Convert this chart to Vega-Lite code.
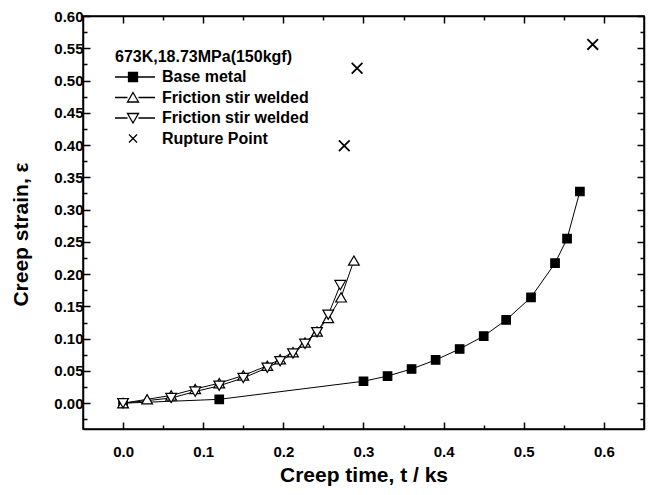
{
  "$schema": "https://vega.github.io/schema/vega-lite/v6.json",
  "width": 561,
  "height": 413,
  "autosize": {"type": "none"},
  "padding": {"left": 83, "top": 16, "right": 4, "bottom": 66},
  "background": "white",
  "config": {
    "view": {"stroke": "black", "strokeWidth": 1.5},
    "font": "Liberation Sans",
    "axis": {
      "domainColor": "black", "domainWidth": 1.5,
      "tickColor": "black", "tickWidth": 1.5,
      "labelColor": "black", "titleColor": "black",
      "labelFont": "Liberation Sans", "titleFont": "Liberation Sans",
      "labelFontSize": 15, "labelFontWeight": "bold",
      "titleFontSize": 21, "titleFontWeight": "bold",
      "grid": false
    },
    "legend": {
      "labelFont": "Liberation Sans", "titleFont": "Liberation Sans",
      "labelColor": "black", "titleColor": "black",
      "orient": "none",
      "legendX": 32,
      "legendY": 33,
      "padding": 0,
      "titleFontSize": 16,
      "titleFontWeight": "bold",
      "titlePadding": 4,
      "labelFontSize": 16,
      "labelFontWeight": "bold",
      "labelOffset": 31,
      "rowPadding": 4.5,
      "symbolSize": 100,
      "symbolOpacity": 1,
      "symbolStrokeWidth": 1.3
    }
  },
  "data": {
    "values": [
      {"series": "Base metal", "t": 0.0, "strain": 0.0},
      {"series": "Base metal", "t": 0.12, "strain": 0.006},
      {"series": "Base metal", "t": 0.30, "strain": 0.034},
      {"series": "Base metal", "t": 0.33, "strain": 0.042},
      {"series": "Base metal", "t": 0.36, "strain": 0.053},
      {"series": "Base metal", "t": 0.39, "strain": 0.067},
      {"series": "Base metal", "t": 0.42, "strain": 0.084},
      {"series": "Base metal", "t": 0.45, "strain": 0.104},
      {"series": "Base metal", "t": 0.478, "strain": 0.129},
      {"series": "Base metal", "t": 0.509, "strain": 0.164},
      {"series": "Base metal", "t": 0.539, "strain": 0.217},
      {"series": "Base metal", "t": 0.554, "strain": 0.255},
      {"series": "Base metal", "t": 0.57, "strain": 0.328},
      {"series": "Friction stir welded A", "t": 0.0, "strain": 0.0},
      {"series": "Friction stir welded A", "t": 0.03, "strain": 0.006},
      {"series": "Friction stir welded A", "t": 0.06, "strain": 0.012},
      {"series": "Friction stir welded A", "t": 0.09, "strain": 0.022},
      {"series": "Friction stir welded A", "t": 0.12, "strain": 0.031},
      {"series": "Friction stir welded A", "t": 0.15, "strain": 0.043},
      {"series": "Friction stir welded A", "t": 0.18, "strain": 0.058},
      {"series": "Friction stir welded A", "t": 0.196, "strain": 0.068},
      {"series": "Friction stir welded A", "t": 0.212, "strain": 0.079},
      {"series": "Friction stir welded A", "t": 0.227, "strain": 0.094},
      {"series": "Friction stir welded A", "t": 0.242, "strain": 0.111},
      {"series": "Friction stir welded A", "t": 0.256, "strain": 0.132},
      {"series": "Friction stir welded A", "t": 0.272, "strain": 0.164},
      {"series": "Friction stir welded A", "t": 0.288, "strain": 0.221},
      {"series": "Friction stir welded B", "t": 0.0, "strain": 0.0},
      {"series": "Friction stir welded B", "t": 0.06, "strain": 0.008},
      {"series": "Friction stir welded B", "t": 0.09, "strain": 0.018},
      {"series": "Friction stir welded B", "t": 0.12, "strain": 0.027},
      {"series": "Friction stir welded B", "t": 0.15, "strain": 0.039},
      {"series": "Friction stir welded B", "t": 0.18, "strain": 0.055},
      {"series": "Friction stir welded B", "t": 0.196, "strain": 0.065},
      {"series": "Friction stir welded B", "t": 0.212, "strain": 0.077},
      {"series": "Friction stir welded B", "t": 0.227, "strain": 0.092},
      {"series": "Friction stir welded B", "t": 0.242, "strain": 0.110},
      {"series": "Friction stir welded B", "t": 0.256, "strain": 0.137},
      {"series": "Friction stir welded B", "t": 0.271, "strain": 0.183},
      {"series": "Rupture Point", "t": 0.276, "strain": 0.399},
      {"series": "Rupture Point", "t": 0.292, "strain": 0.519},
      {"series": "Rupture Point", "t": 0.586, "strain": 0.556}
    ]
  },
  "resolve": {
    "axis": {"x": "independent", "y": "independent"},
    "scale": {"shape": "independent", "fill": "independent", "stroke": "independent"}
  },
  "layer": [
    {
      "transform": [{"filter": "datum.series != 'Rupture Point'"}],
      "mark": {"type": "line", "color": "black", "strokeWidth": 1},
      "encoding": {
        "x": {
          "field": "t", "type": "quantitative",
          "scale": {"domain": [-0.05, 0.65], "nice": false, "zero": false},
          "axis": {
            "orient": "bottom",
            "values": [0, 0.05, 0.1, 0.15, 0.2, 0.25, 0.3, 0.35, 0.4, 0.45, 0.5, 0.55, 0.6],
            "labelExpr": "abs(datum.value*10-round(datum.value*10))<0.001 ? format(datum.value,'.1f') : ''",
            "tickSize": {"condition": {"test": "abs(datum.value*10-round(datum.value*10))<0.001", "value": -7}, "value": -4},
            "labelPadding": 22,
            "title": "Creep time, t / ks",
            "titlePadding": 5
          }
        },
        "y": {
          "field": "strain", "type": "quantitative",
          "scale": {"domain": [-0.04, 0.6], "nice": false, "zero": false},
          "axis": {
            "orient": "left",
            "values": [-0.025, 0, 0.025, 0.05, 0.075, 0.1, 0.125, 0.15, 0.175, 0.2, 0.225, 0.25, 0.275, 0.3, 0.325, 0.35, 0.375, 0.4, 0.425, 0.45, 0.475, 0.5, 0.525, 0.55, 0.575, 0.6],
            "labelExpr": "abs(datum.value*20-round(datum.value*20))<0.001 ? format(datum.value,'.2f') : ''",
            "tickSize": {"condition": {"test": "abs(datum.value*20-round(datum.value*20))<0.001", "value": -7}, "value": -4},
            "labelPadding": 7,
            "title": "Creep strain, ε",
            "titlePadding": 22,
            "titleY": 218
          }
        },
        "detail": {"field": "series"}
      }
    },
    {
      "mark": {"type": "point", "filled": true, "stroke": "black", "opacity": 1},
      "encoding": {
        "x": {
          "field": "t", "type": "quantitative",
          "scale": {"domain": [-0.05, 0.65], "nice": false, "zero": false},
          "axis": {
            "orient": "top",
            "values": [0, 0.05, 0.1, 0.15, 0.2, 0.25, 0.3, 0.35, 0.4, 0.45, 0.5, 0.55, 0.6],
            "labels": false,
            "tickSize": {"condition": {"test": "abs(datum.value*10-round(datum.value*10))<0.001", "value": -7}, "value": -4},
            "title": null
          }
        },
        "y": {
          "field": "strain", "type": "quantitative",
          "scale": {"domain": [-0.04, 0.6], "nice": false, "zero": false},
          "axis": {
            "orient": "right",
            "values": [-0.025, 0, 0.025, 0.05, 0.075, 0.1, 0.125, 0.15, 0.175, 0.2, 0.225, 0.25, 0.275, 0.3, 0.325, 0.35, 0.375, 0.4, 0.425, 0.45, 0.475, 0.5, 0.525, 0.55, 0.575, 0.6],
            "labels": false,
            "tickSize": {"condition": {"test": "abs(datum.value*20-round(datum.value*20))<0.001", "value": -7}, "value": -4},
            "title": null
          }
        },
        "shape": {
          "field": "series", "type": "nominal",
          "scale": {
            "domain": ["Base metal", "Friction stir welded A", "Friction stir welded B", "Rupture Point"],
            "range": ["square", "triangle-up", "triangle-down", "M-1,-1L1,1M-1,1L1,-1"]
          },
          "legend": null
        },
        "fill": {
          "condition": [
            {"test": "datum.series=='Base metal'", "value": "black"},
            {"test": "datum.series=='Rupture Point'", "value": "transparent"}
          ],
          "value": "white"
        },
        "size": {
          "condition": {"test": "datum.series=='Base metal'", "value": 72},
          "value": 115
        },
        "strokeWidth": {
          "condition": {"test": "datum.series=='Rupture Point'", "value": 1.8},
          "value": 1.2
        }
      }
    },
    {
      "mark": {"type": "point", "filled": true, "strokeWidth": 1.3, "opacity": 0, "size": 100},
      "encoding": {
        "x": {"field": "t", "type": "quantitative", "scale": {"domain": [-0.05, 0.65], "nice": false, "zero": false}, "axis": null},
        "y": {"field": "strain", "type": "quantitative", "scale": {"domain": [-0.04, 0.6], "nice": false, "zero": false}, "axis": null},
        "shape": {
          "field": "series", "type": "nominal",
          "scale": {
            "domain": ["Base metal", "Friction stir welded A", "Friction stir welded B", "Rupture Point"],
            "range": [
              "M-1.6,0H1.1M2.9,0H6.4M1.1,-0.9H2.9V0.9H1.1Z",
              "M-1.6,0H0.9M3.1,0H6.4M2,-1L3.1,0.9H0.9Z",
              "M-1.6,0H0.9M3.1,0H6.4M2,1L3.1,-0.9H0.9Z",
              "M1.2,-0.8L2.8,0.8M1.2,0.8L2.8,-0.8"
            ]
          },
          "legend": {
            "title": "673K,18.73MPa(150kgf)",
            "labelExpr": "indexof(datum.value,'Friction')==0 ? 'Friction stir welded' : datum.value"
          }
        },
        "fill": {
          "field": "series", "type": "nominal",
          "scale": {
            "domain": ["Base metal", "Friction stir welded A", "Friction stir welded B", "Rupture Point"],
            "range": ["black", "white", "white", "transparent"]
          },
          "legend": {
            "title": "673K,18.73MPa(150kgf)",
            "labelExpr": "indexof(datum.value,'Friction')==0 ? 'Friction stir welded' : datum.value"
          }
        },
        "stroke": {
          "field": "series", "type": "nominal",
          "scale": {
            "domain": ["Base metal", "Friction stir welded A", "Friction stir welded B", "Rupture Point"],
            "range": ["black", "black", "black", "black"]
          },
          "legend": {
            "title": "673K,18.73MPa(150kgf)",
            "labelExpr": "indexof(datum.value,'Friction')==0 ? 'Friction stir welded' : datum.value"
          }
        }
      }
    }
  ]
}
